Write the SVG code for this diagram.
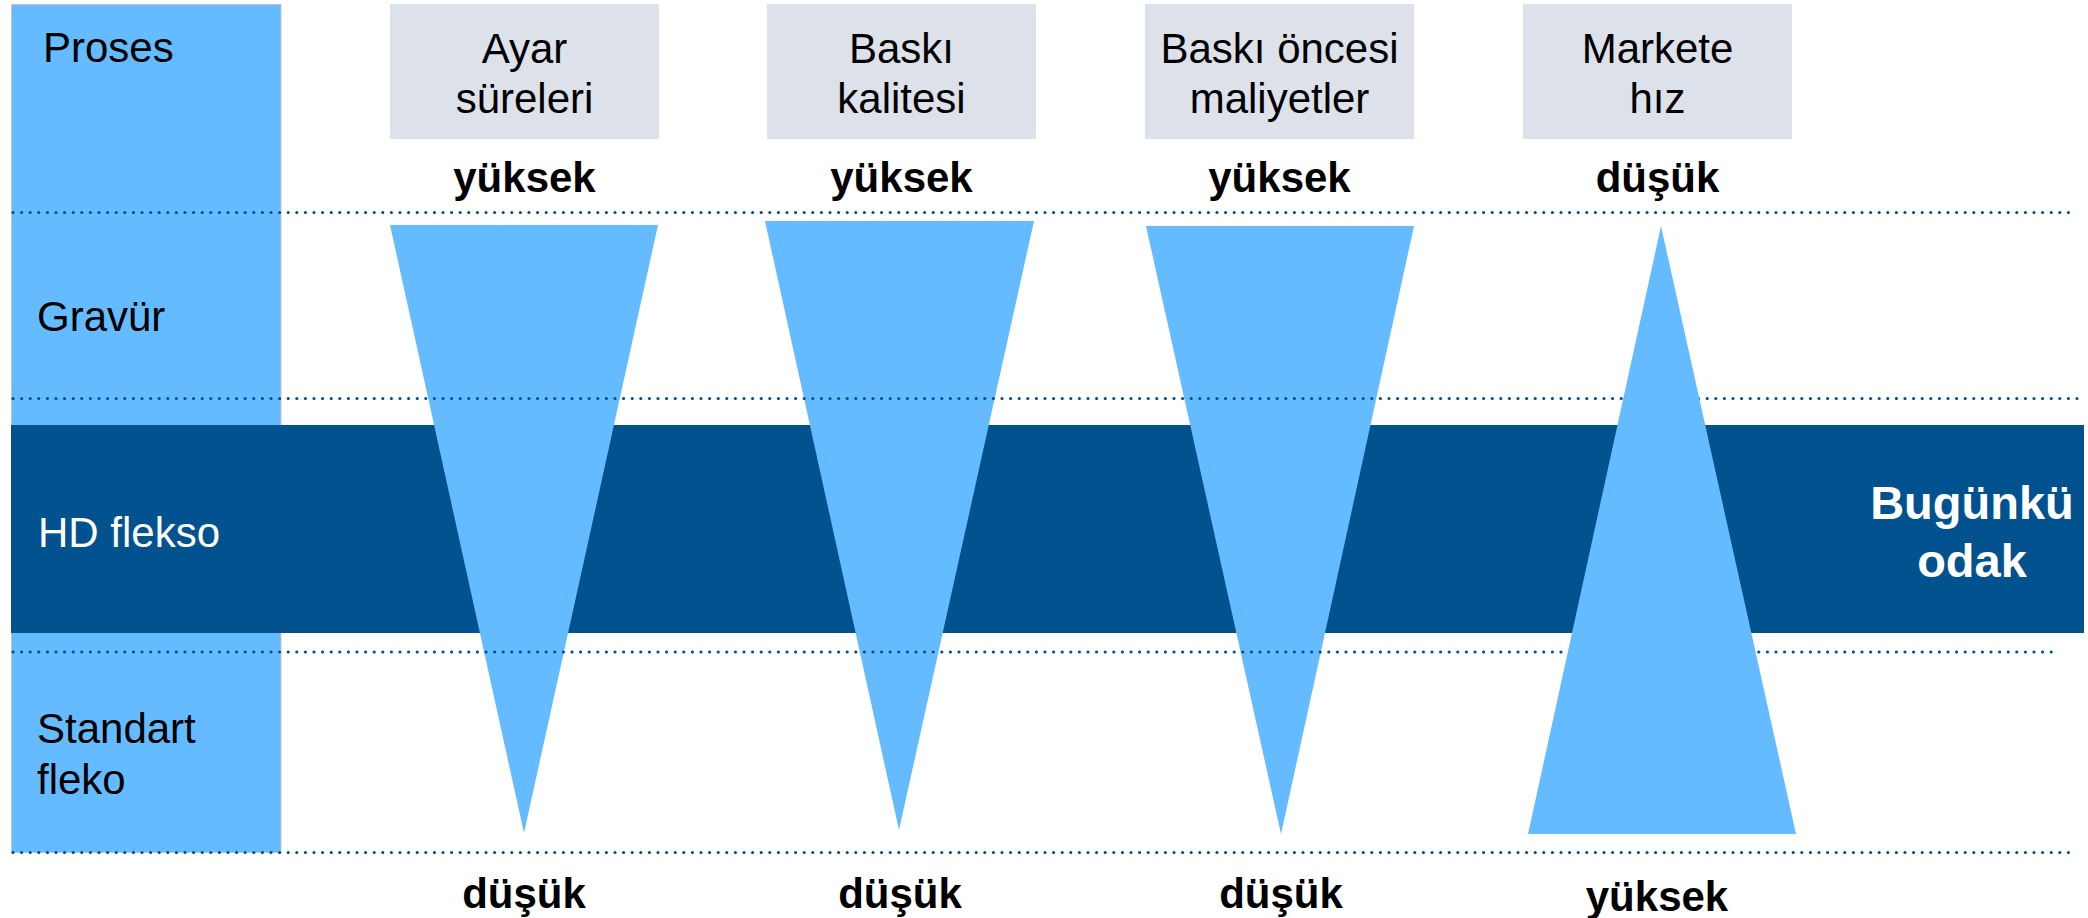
<svg xmlns="http://www.w3.org/2000/svg" width="2088" height="918" viewBox="0 0 2088 918">
<style>
.t{font-family:"Liberation Sans",Arial,sans-serif;font-size:42px;fill:#000}
.c{text-anchor:middle}
.b{font-weight:bold}
.w{fill:#fff}
.hdr{fill:#DDE1EA}
.tri{fill:#64BBFF}
.dot{stroke:#00508F;stroke-width:3.2;stroke-linecap:round;stroke-dasharray:0 8.6;fill:none}
</style>
<rect width="2088" height="918" fill="#fff"/>
<g id="process-column">
<rect x="11.5" y="4.5" width="269.5" height="848" fill="#64BBFF" stroke="#C4C4C4" stroke-width="1"/>
<text class="t" x="43" y="62">Proses</text>
<text class="t" x="37" y="331">Gravür</text>
<text class="t" x="37" y="743">Standart</text>
<text class="t" x="37" y="794">fleko</text>
</g>
<g id="hd-band">
<rect x="11" y="425" width="2073" height="208" fill="#02528F"/>
<text class="t w" x="38" y="547">HD flekso</text>
<text class="t b w c" x="1972" y="519" style="font-size:47px">Bugünkü</text>
<text class="t b w c" x="1972" y="577" style="font-size:47px">odak</text>
</g>
<g id="header-1">
<rect class="hdr" x="390" y="4" width="269" height="135"/>
<text class="t c" x="524.5" y="63">Ayar</text>
<text class="t c" x="524.5" y="113">süreleri</text>
</g>
<g id="header-2">
<rect class="hdr" x="767" y="4" width="269" height="135"/>
<text class="t c" x="901.5" y="63">Baskı</text>
<text class="t c" x="901.5" y="113">kalitesi</text>
</g>
<g id="header-3">
<rect class="hdr" x="1145" y="4" width="269" height="135"/>
<text class="t c" x="1279.5" y="63">Baskı öncesi</text>
<text class="t c" x="1279.5" y="113">maliyetler</text>
</g>
<g id="header-4">
<rect class="hdr" x="1523" y="4" width="269" height="135"/>
<text class="t c" x="1657.5" y="63">Markete</text>
<text class="t c" x="1657.5" y="113">hız</text>
</g>
<g id="top-labels">
<text class="t b c" x="524.5" y="192">yüksek</text>
<text class="t b c" x="901.5" y="192">yüksek</text>
<text class="t b c" x="1279.5" y="192">yüksek</text>
<text class="t b c" x="1657.5" y="192">düşük</text>
</g>
<g id="triangles">
<polygon id="tri-1" class="tri" points="390,225 658,225 524,833"/>
<polygon id="tri-2" class="tri" points="765,221 1034,221 899,830"/>
<polygon id="tri-3" class="tri" points="1146,226 1414,226 1281,834"/>
</g>
<g id="connectors">
<line class="dot" x1="13" y1="212.5" x2="2073" y2="212.5"/>
<line class="dot" x1="13" y1="398.5" x2="2082" y2="398.5"/>
<line class="dot" x1="13" y1="652" x2="2056" y2="652"/>
<line class="dot" x1="13" y1="852.5" x2="2075" y2="852.5"/>
</g>
<g id="tri-4-group">
<polygon id="tri-4" class="tri" points="1661,226 1528,834 1796,834"/>
</g>
<g id="bottom-labels">
<text class="t b c" x="524" y="908">düşük</text>
<text class="t b c" x="900" y="908">düşük</text>
<text class="t b c" x="1281" y="908">düşük</text>
<text class="t b c" x="1657" y="911">yüksek</text>
</g>
</svg>
